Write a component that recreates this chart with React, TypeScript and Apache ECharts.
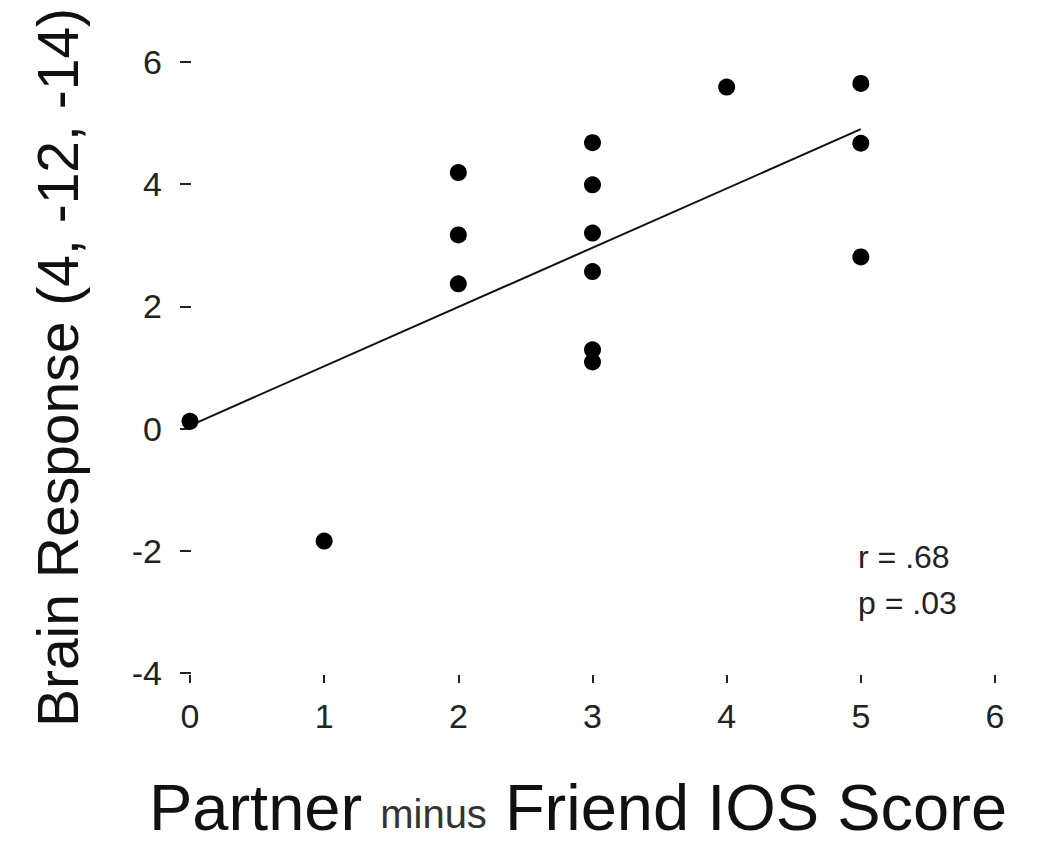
import React, { useEffect, useRef } from "react";
import * as echarts from "echarts";

// Data
const xTicks = [0, 1, 2, 3, 4, 5, 6];
const yTicks = [-4, -2, 0, 2, 4, 6];
const iosScore = [0, 1, 2, 2, 2, 3, 3, 3, 3, 3, 3, 4, 5, 5, 5];
const brainResponse = [0.12, -1.84, 4.19, 3.17, 2.37, 4.68, 3.99, 3.2, 2.57, 1.29, 1.09, 5.59, 5.65, 4.67, 2.81];
const fitX = [0, 5];
const fitY = [0.05, 4.9];
const statLines = ["r = .68", "p = .03"];

const NARROW = "'Liberation Sans Narrow', 'Liberation Sans', Arial, sans-serif";
const SANS = "'Liberation Sans', Arial, sans-serif";

export default function App() {
  const ref = useRef<HTMLDivElement>(null);
  useEffect(() => {
    document.body.style.margin = "0";
    const chart = echarts.init(ref.current!, null, { renderer: "svg" });
    const points = iosScore.map((x, i) => [x, brainResponse[i]]);
    const fit = fitX.map((x, i) => [x, fitY[i]]);
    chart.setOption({
      animation: false,
      backgroundColor: "#ffffff",
      grid: { left: 190, right: 43, top: 62, bottom: 188 },
      xAxis: {
        type: "value",
        min: xTicks[0],
        max: xTicks[xTicks.length - 1],
        interval: 1,
        offset: 2,
        axisLine: { show: false, onZero: false },
        axisTick: { show: true, length: 8, lineStyle: { color: "#222", width: 2 } },
        splitLine: { show: false },
        axisLabel: { fontFamily: NARROW, fontSize: 34, color: "#222", margin: 24 },
      },
      yAxis: {
        type: "value",
        min: yTicks[0],
        max: yTicks[yTicks.length - 1],
        interval: 2,
        offset: 10,
        axisLine: { show: false, onZero: false },
        axisTick: { show: true, inside: true, length: 11, lineStyle: { color: "#222", width: 2 } },
        splitLine: { show: false },
        axisLabel: { fontFamily: NARROW, fontSize: 34, color: "#222", margin: 18 },
        name: "Brain Response (4, -12, -14)",
        nameLocation: "middle",
        nameGap: 94,
        nameTextStyle: { fontFamily: SANS, fontSize: 57, color: "#111" },
      },
      graphic: [
        {
          type: "text",
          left: 858,
          top: 534,
          style: {
            text: statLines.join("\n"),
            font: `32px ${NARROW}`,
            fill: "#222",
            lineHeight: 46,
          },
        },
        {
          type: "text",
          x: 578,
          y: 805,
          style: {
            text: "{a|Partner }{b|minus}{a| Friend IOS Score}",
            align: "center",
            verticalAlign: "middle",
            rich: {
              a: { fontFamily: SANS, fontSize: 65, fill: "#111", lineHeight: 70, verticalAlign: "bottom" },
              b: { fontFamily: NARROW, fontSize: 40, fill: "#333", lineHeight: 70, verticalAlign: "bottom", padding: [0, 0, 6, 0] },
            },
          },
        },
      ],
      series: [
        {
          type: "line",
          data: fit,
          symbol: "none",
          lineStyle: { color: "#111", width: 2 },
          z: 2,
        },
        {
          type: "scatter",
          data: points,
          symbol: "circle",
          symbolSize: 17,
          itemStyle: { color: "#000", opacity: 1 },
          z: 3,
        },
      ],
    });
    return () => chart.dispose();
  }, []);
  return <div ref={ref} style={{ width: 1038, height: 861 }} />;
}
